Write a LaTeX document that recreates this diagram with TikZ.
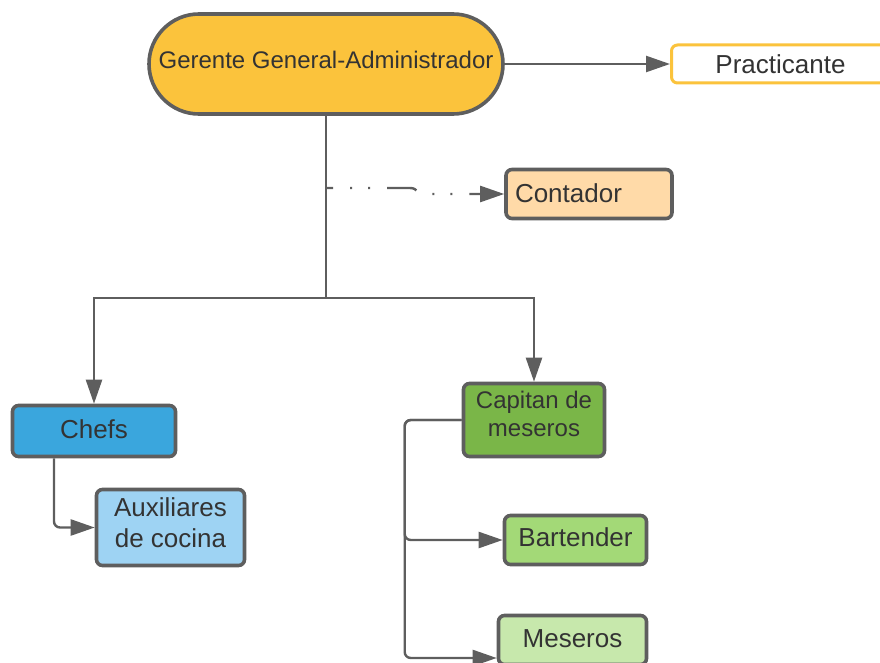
\documentclass[tikz,border=0pt]{standalone}
\usepackage{fontspec}
\setmainfont{Liberation Sans}
\usetikzlibrary{arrows.meta, positioning}

\definecolor{borde}{HTML}{5E5E5E}
\definecolor{texto}{HTML}{333333}
\definecolor{amarillo}{HTML}{FBC33C}
\definecolor{naranja}{HTML}{FFDAA8}
\definecolor{azul}{HTML}{3AA6DD}
\definecolor{celeste}{HTML}{9ED3F3}
\definecolor{verde}{HTML}{7AB648}
\definecolor{verde_claro}{HTML}{A3D977}
\definecolor{verde_palido}{HTML}{C7E8AC}

\begin{document}
\begin{tikzpicture}[x=1pt, y=-1pt,
						font=\fontsize{26}{31}\selectfont,
						block/.style = {rectangle, draw=borde, line width=3.6pt, rounded corners=6pt,
										text=texto, align=center, inner sep=0pt},
						line/.style = {draw=borde, line width=2.4pt, rounded corners=6pt,
										-{Triangle[length=24pt, width=16pt]}},
						plain_line/.style = {draw=borde, line width=2.4pt},
						dash_line/.style = {line, rounded corners=0pt,
										dash pattern=on 30pt off 17pt on 2pt off 16pt on 2pt off 17pt, dash phase=23pt}
						]

						\useasboundingbox (0,0) rectangle (880,663);

						% --- Direccion ---
						\node[block, fill=amarillo, rounded corners=50pt, minimum width=354pt, minimum height=100pt,
							  font=\fontsize{24}{28}\selectfont, text depth=8pt] (gerente) at (326,64) {Gerente General-Administrador};
						\node[block, draw=amarillo, fill=white, line width=3pt, minimum width=218pt, minimum height=38pt] (practicante) at (780.5,64) {Practicante};
						\node[block, fill=naranja, minimum width=163pt, minimum height=49pt,
							  text width=148pt, inner xsep=9pt, align=left, text depth=2pt] (contador) at (589,194) {Contador};

						% --- Cocina ---
						\node[block, fill=azul, minimum width=163pt, minimum height=51pt, text depth=4pt] (chefs) at (94,431) {Chefs};
						\node[block, fill=celeste, minimum width=148pt, minimum height=76pt, text depth=9pt] (aux_cocina) at (170.5,527.5) {Auxiliares\\de cocina};

						% --- Salon ---
						\node[block, fill=verde, minimum width=141pt, minimum height=73pt,
							  font=\fontsize{24}{28}\selectfont, text depth=12pt] (capitan) at (534,420) {Capitan de\\meseros};
						\node[block, fill=verde_claro, minimum width=142pt, minimum height=49pt, text depth=6pt] (bartender) at (575.5,540) {Bartender};
						\node[block, fill=verde_palido, minimum width=148pt, minimum height=49pt, text depth=2pt] (meseros) at (572.5,640) {Meseros};

						% puntos del tronco
						\coordinate (tap) at (326,188);
						\coordinate (split) at (326,298);

						% --- Conexiones ---
						\draw[line] (gerente.east) -- (practicante.west);
						\draw[plain_line] (gerente.south) -- (split);
						\draw[dash_line] (tap) -- ++(84,0) .. controls +(8,0) and +(-8,0) .. ([xshift=-80pt]contador.west) -- (contador.west);
						\draw[line, rounded corners=0pt] (split) -| (chefs.north);
						\draw[line, rounded corners=0pt] (split) -| (capitan.north);

						\draw[line] ([xshift=-40pt]chefs.south) |- (aux_cocina.west);
						\draw[line] (capitan.west) -- ++(-57,0) |- (bartender.west);
						\draw[line] (capitan.west) -- ++(-57,0) |- ([yshift=-18pt]meseros.west);

\end{tikzpicture}
\end{document}
